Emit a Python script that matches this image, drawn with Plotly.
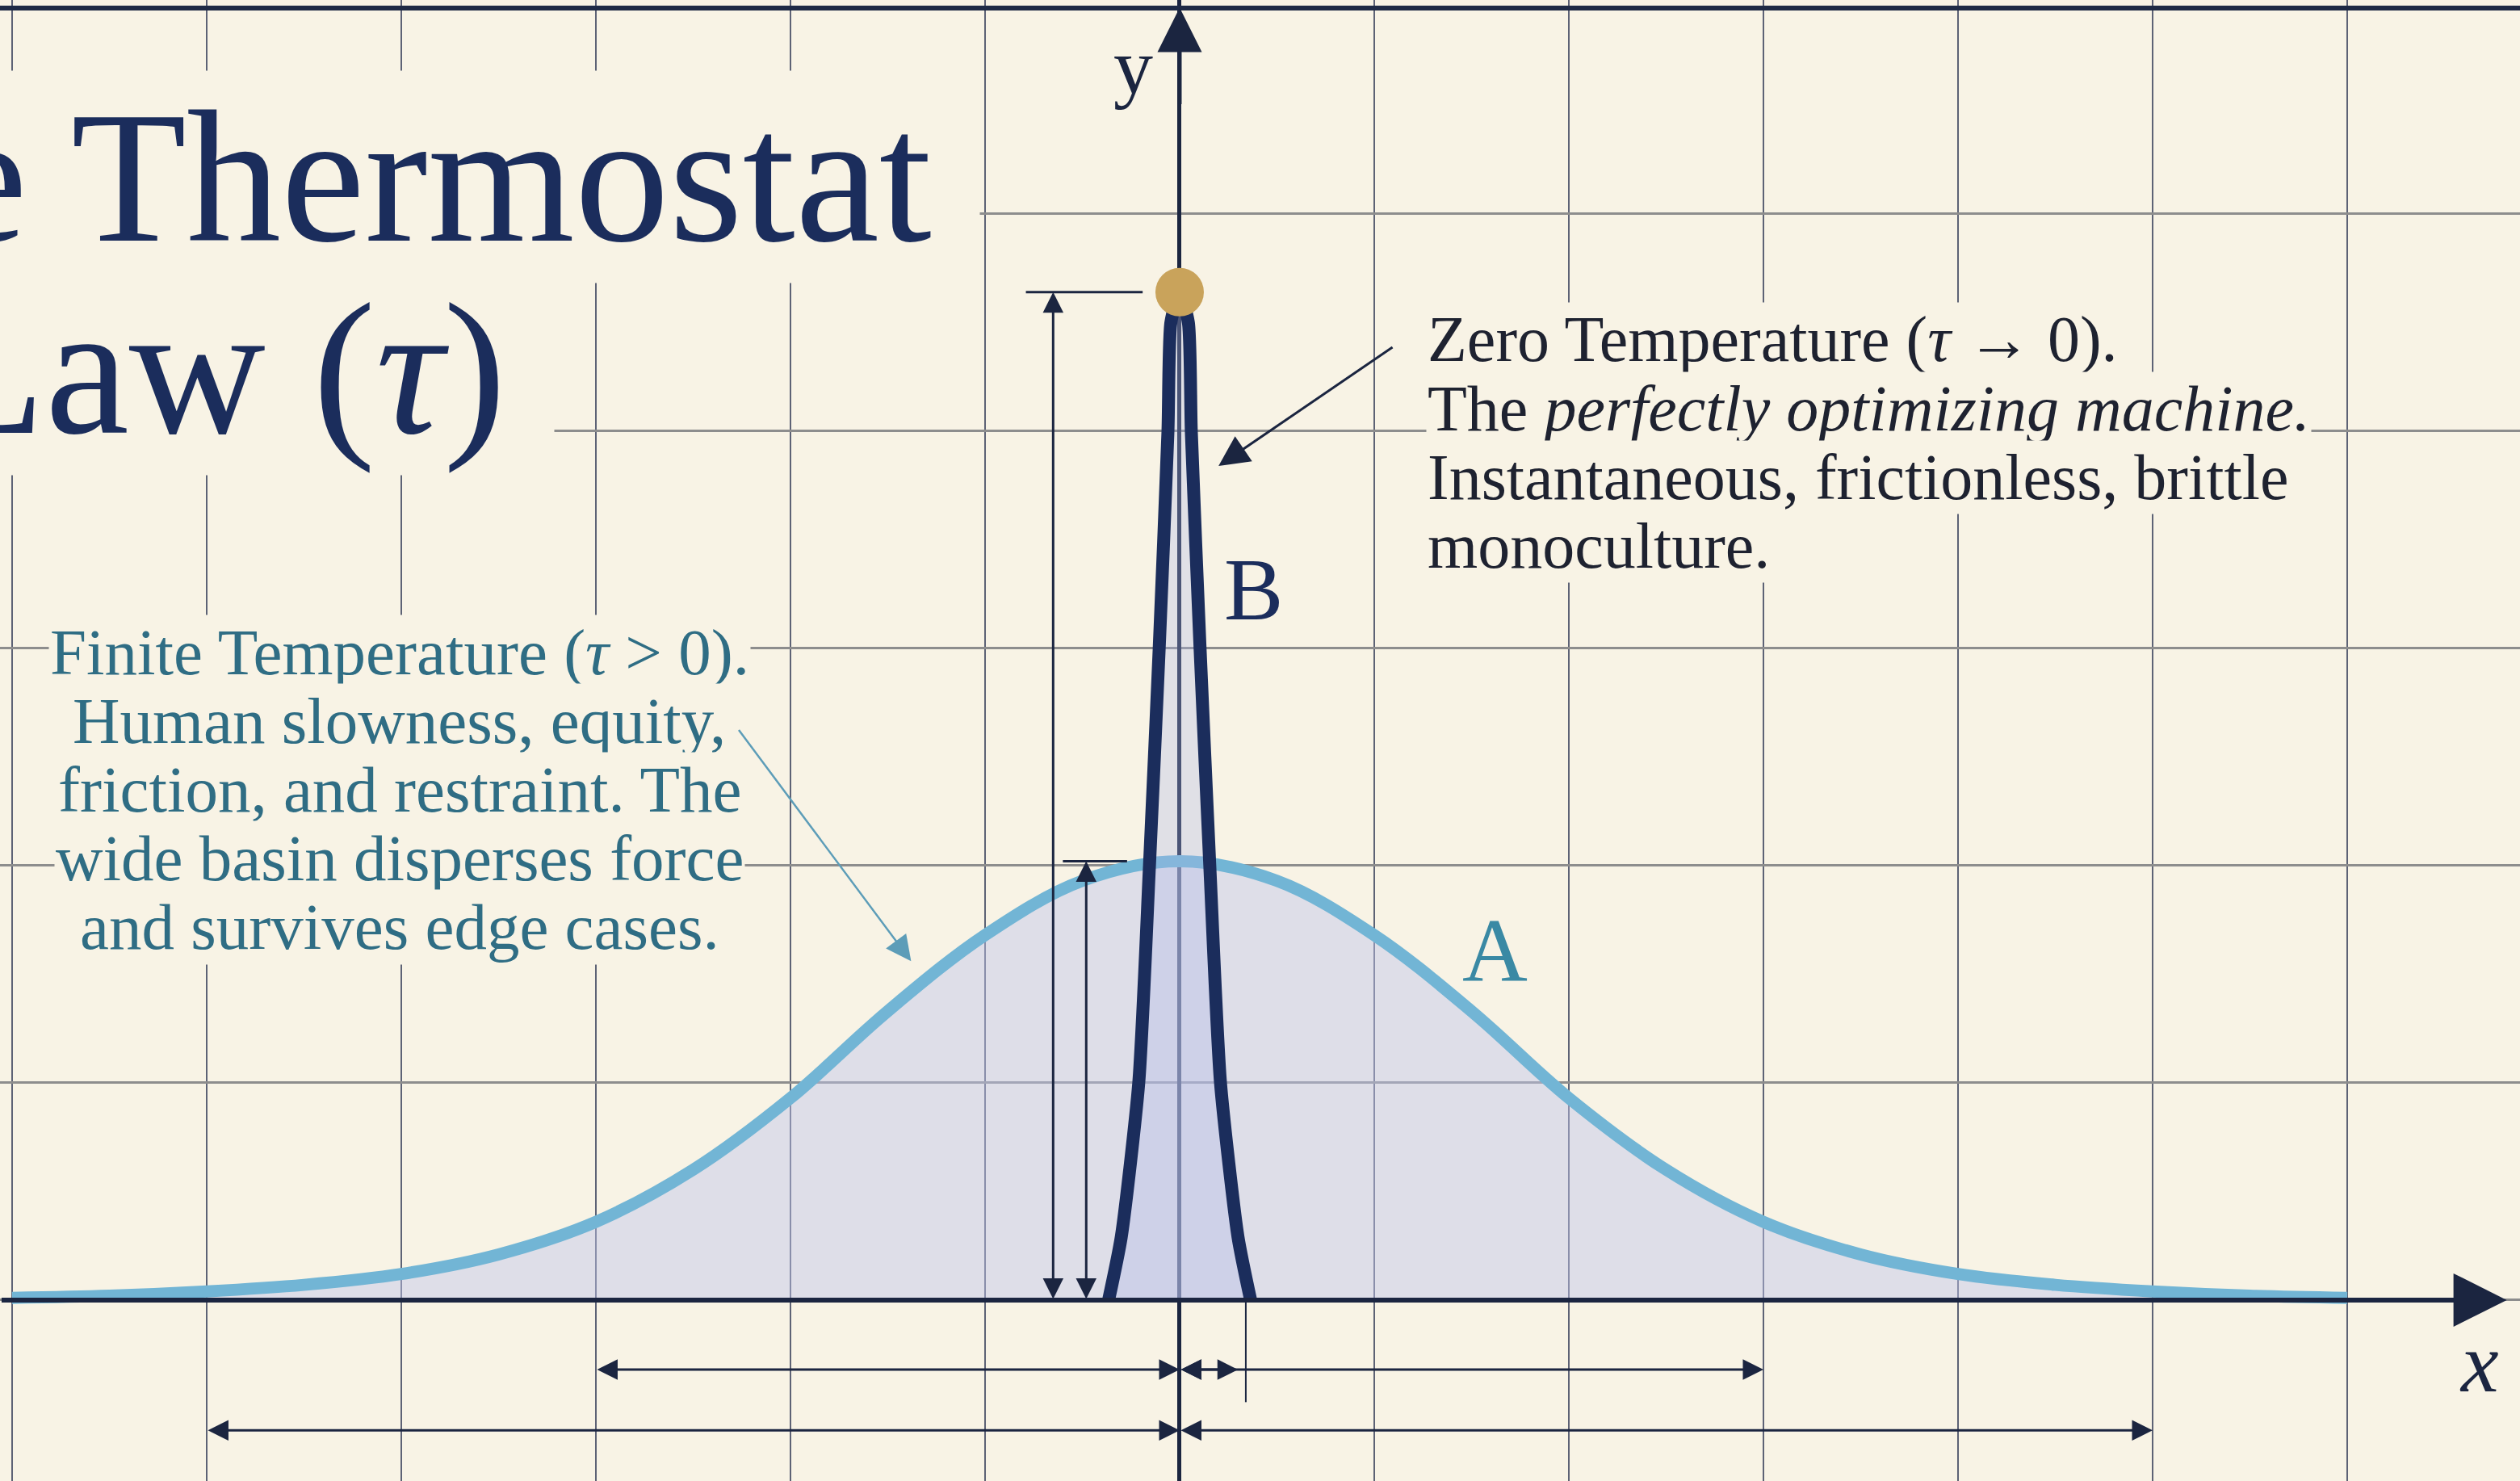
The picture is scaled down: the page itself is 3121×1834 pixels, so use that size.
import plotly.graph_objects as go

# curve A: the wide basin (finite temperature)
a_x = [-6, -5.5, -5, -4.5, -4, -3.5, -3, -2.5, -2, -1.5, -1, -0.5, 0,
       0.5, 1, 1.5, 2, 2.5, 3, 3.5, 4, 4.5, 5, 5.5, 6]
a_y = [0.01, 0.02, 0.04, 0.07, 0.12, 0.21, 0.36, 0.60, 0.93, 1.33, 1.68, 1.93, 2.02,
       1.93, 1.68, 1.33, 0.93, 0.60, 0.36, 0.21, 0.12, 0.07, 0.04, 0.02, 0.01]

# curve B: the sharp spike (zero temperature)
b_x = [-0.365, -0.30, -0.21, -0.155, -0.105, -0.06, -0.045, 0,
       0.045, 0.06, 0.105, 0.155, 0.21, 0.30, 0.365]
b_y = [0, 0.29, 1.0, 2.0, 3.0, 4.0, 4.5, 4.64, 4.5, 4.0, 3.0, 2.0, 1.0, 0.29, 0]

# half-width spans marked under the x axis
a_spans = [3, 5]
b_span = 0.3

title_lines = ["The Thermostat\u00a0", "Law (<i>τ</i>)\u00a0"]
zero_lines = [
    "Zero Temperature (<i>τ</i> → 0).",
    "The <i>perfectly optimizing machine.</i>",
    "Instantaneous, frictionless, brittle",
    "monoculture.",
]
finite_lines = [
    "Finite Temperature (<i>τ</i> > 0).",
    "Human slowness, equity,",
    "friction, and restraint. The",
    "wide basin disperses force",
    "and survives edge cases.",
]

BG = "#f8f3e5"
NAVY = "#1b2d5c"
INK = "#1b2540"
TEAL = "#2f6d84"
SKY = "#72b5d5"
SERIF = "Liberation Serif"

fig = go.Figure()

fig.add_trace(go.Scatter(
    x=a_x, y=a_y, mode="lines", line=dict(color=SKY, width=15, shape="spline"),
    fill="tozeroy", fillcolor="rgba(190,198,235,0.45)", hoverinfo="skip"))
fig.add_trace(go.Scatter(
    x=b_x, y=b_y, mode="lines", line=dict(color=NAVY, width=16, shape="spline", smoothing=0.6),
    fill="tozeroy", fillcolor="rgba(175,185,232,0.32)", hoverinfo="skip"))

a_top = max(a_y)
b_top = max(b_y)
fig.add_trace(go.Scatter(
    x=[0], y=[b_top], mode="markers",
    marker=dict(color="#c9a35b", size=60), hoverinfo="skip"))


def arrow(x0, y0, x1, y1, color=INK, width=3, size=1.7, both=True):
    fig.add_annotation(
        x=x1, y=y1, ax=x0, ay=y0, xref="x", yref="y", axref="x", ayref="y",
        text="", showarrow=True, arrowhead=2, arrowsize=size, arrowwidth=width,
        arrowcolor=color, arrowside="end+start" if both else "end",
        startarrowhead=2, startarrowsize=size, standoff=0, startstandoff=0)


# height dimensions
arrow(-0.65, 0, -0.65, b_top)
arrow(-0.48, 0, -0.48, a_top)
fig.add_shape(type="line", x0=-0.79, x1=-0.19, y0=b_top, y1=b_top,
              line=dict(color=INK, width=3))
fig.add_shape(type="line", x0=-0.60, x1=-0.27, y0=a_top, y1=a_top,
              line=dict(color=INK, width=3))

# width dimensions
rows = [-0.32, -0.60]
for span, ry in zip(a_spans, rows):
    arrow(-span, ry, 0, ry)
    arrow(0, ry, span, ry)
arrow(0, rows[0], b_span, rows[0])
fig.add_shape(type="line", x0=b_span + 0.04, x1=b_span + 0.04, y0=0, y1=-0.47,
              line=dict(color=INK, width=2))

# axes with arrow tips
arrow(-6.06, 0, 6.82, 0, color=INK, width=6, size=2.2, both=False)
arrow(0, 5.5, 0, 5.95, color=INK, width=5, size=2.2, both=False)

# title (cut by the left edge, as in the source)
fig.add_annotation(x=-1.025, y=5.17, xref="x", yref="y", xanchor="right", yanchor="middle",
                   text=title_lines[0], showarrow=False, bgcolor=BG,
                   font=dict(family=SERIF, size=234, color=NAVY))
fig.add_annotation(x=-3.21, y=4.286, xref="x", yref="y", xanchor="right", yanchor="middle",
                   text=title_lines[1], showarrow=False, bgcolor=BG,
                   font=dict(family=SERIF, size=234, color=NAVY))

# zero temperature note
for i, line in enumerate(zero_lines):
    fig.add_annotation(x=1.266, y=4.42 - 0.316 * i, xref="x", yref="y",
                       xanchor="left", yanchor="middle", text=line, showarrow=False,
                       bgcolor=BG, font=dict(family=SERIF, size=80, color="#1e2230"))
arrow(1.10, 4.39, 0.20, 3.84, color=INK, width=3, size=2.5, both=False)

# finite temperature note
for i, line in enumerate(finite_lines):
    fig.add_annotation(x=-4.01, y=2.98 - 0.316 * i, xref="x", yref="y",
                       xanchor="center", yanchor="middle", text=line, showarrow=False,
                       bgcolor=BG, font=dict(family=SERIF, size=81, color=TEAL))
arrow(-2.27, 2.63, -1.38, 1.56, color="#5d9db8", width=2.5, size=2.5, both=False)

# curve and axis labels
fig.add_annotation(x=1.62, y=1.61, xref="x", yref="y", text="A", showarrow=False,
                   font=dict(family=SERIF, size=112, color="#3a89a4"))
fig.add_annotation(x=0.38, y=3.27, xref="x", yref="y", text="B", showarrow=False,
                   font=dict(family=SERIF, size=110, color=NAVY))
fig.add_annotation(x=-0.24, y=5.68, xref="x", yref="y", text="y", showarrow=False,
                   font=dict(family=SERIF, size=98, color=INK))
fig.add_annotation(x=6.68, y=-0.29, xref="x", yref="y", text="<i>x</i>", showarrow=False,
                   font=dict(family=SERIF, size=105, color=INK))

# top border
fig.add_shape(type="line", xref="paper", yref="paper", x0=0, x1=1, y0=0.9945, y1=0.9945,
              line=dict(color="#1e2a45", width=6))

fig.update_layout(
    width=3121, height=1834,
    margin=dict(l=0, r=0, t=0, b=0),
    paper_bgcolor=BG, plot_bgcolor=BG,
    showlegend=False,
    xaxis=dict(range=[-6.062, 6.888], dtick=1, tick0=0, showticklabels=False, ticks="",
               showgrid=True, gridcolor="#5d6275", gridwidth=2,
               zeroline=True, zerolinecolor=INK, zerolinewidth=5, fixedrange=True),
    yaxis=dict(range=[-0.833, 5.985], dtick=1, tick0=0, showticklabels=False, ticks="",
               showgrid=True, gridcolor="#8d8d8d", gridwidth=3,
               zeroline=False, fixedrange=True),
)

fig.write_html("out.html", config={"displayModeBar": False},
               post_script="document.body.style.margin='0';")
